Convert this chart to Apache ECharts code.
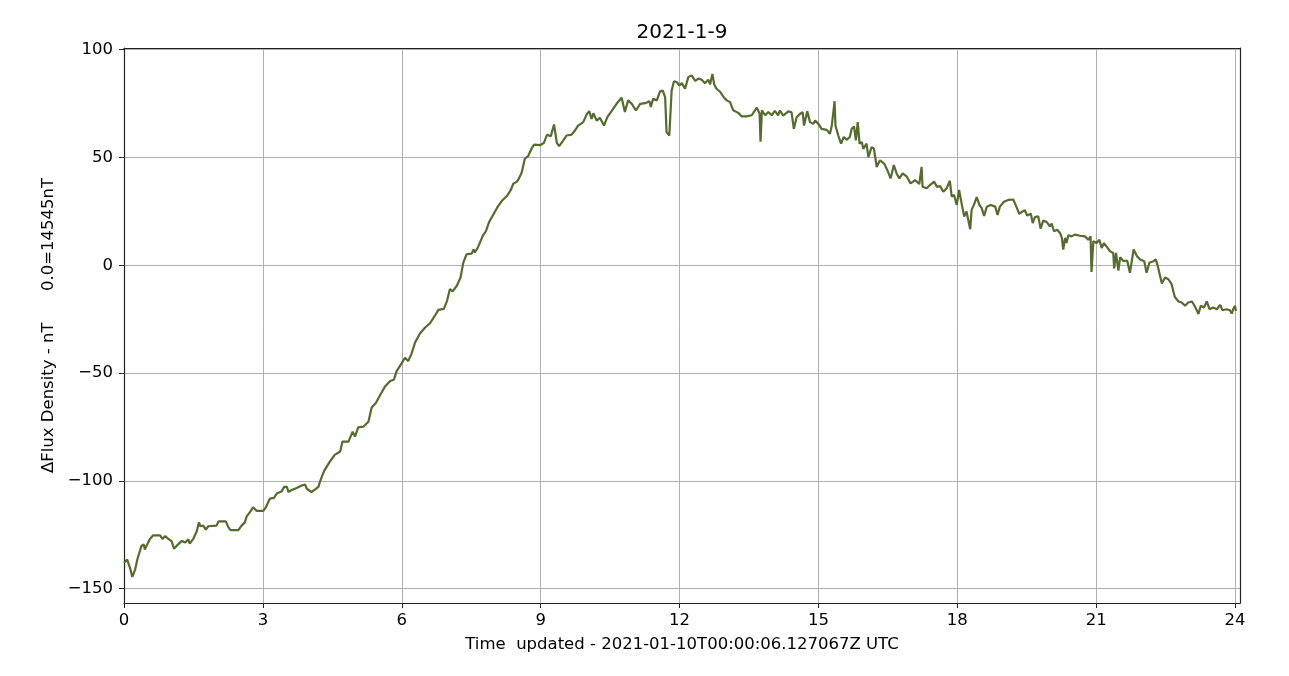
<!DOCTYPE html>
<html>
<head>
<meta charset="utf-8">
<title>2021-1-9</title>
<script src="https://cdn.jsdelivr.net/npm/echarts@6/dist/echarts.min.js"></script>
<style>
  html, body { margin: 0; padding: 0; background: #fff; }
  #chart { width: 1289px; height: 676px; }
</style>
</head>
<body>
<div id="chart"></div>
<script>
// hours since 00:00 UTC
const hours = [
  0.00, 0.07, 0.13, 0.18, 0.24, 0.29, 0.33, 0.38, 0.43, 0.45, 0.50, 0.56, 0.63, 0.78, 0.83, 0.89, 0.96,
  1.03, 1.08, 1.14, 1.25, 1.32, 1.39, 1.42, 1.50, 1.57, 1.62, 1.65, 1.71, 1.77, 1.82, 2.00, 2.04,
  2.20, 2.25, 2.30, 2.47, 2.54, 2.61, 2.65, 2.72, 2.79, 2.87, 3.01, 3.06, 3.15, 3.24, 3.30, 3.41,
  3.46, 3.52, 3.55, 3.62, 3.73, 3.84, 3.91, 3.95, 3.98, 4.05, 4.13, 4.20, 4.23, 4.32, 4.45, 4.55,
  4.67, 4.72, 4.85, 4.94, 4.99, 5.06, 5.17, 5.28, 5.35, 5.44, 5.53, 5.64, 5.75, 5.83, 5.89, 6.00,
  6.07, 6.14, 6.21, 6.29, 6.39, 6.50, 6.61, 6.72, 6.79, 6.91, 6.98, 7.04, 7.10, 7.19, 7.27, 7.33,
  7.40, 7.51, 7.55, 7.58, 7.65, 7.75, 7.82, 7.89, 7.98, 8.06, 8.16, 8.27, 8.35, 8.41, 8.48, 8.52,
  8.59, 8.66, 8.73, 8.81, 8.86, 8.99, 9.07, 9.14, 9.22, 9.29, 9.35, 9.40,
  9.49, 9.56, 9.67, 9.74, 9.81, 9.92, 10.00, 10.05, 10.10, 10.14, 10.21, 10.28, 10.37, 10.44, 10.54,
  10.64, 10.75, 10.82, 10.89, 10.97, 11.06, 11.15, 11.26, 11.35, 11.38, 11.43, 11.51, 11.58, 11.64,
  11.69, 11.72, 11.78, 11.83, 11.88, 11.94, 12.00, 12.05, 12.12, 12.19, 12.26, 12.34, 12.41, 12.48,
  12.55, 12.62, 12.66, 12.71, 12.75, 12.80, 12.88, 12.95, 13.02, 13.09, 13.16, 13.27, 13.34, 13.45,
  13.56, 13.67, 13.73, 13.75, 13.78, 13.85, 13.92, 13.99, 14.06, 14.13,
  14.17, 14.24, 14.35, 14.42, 14.47, 14.53, 14.60, 14.66, 14.69, 14.76, 14.82, 14.89, 14.93, 15.00,
  15.07, 15.18, 15.25, 15.29, 15.32, 15.35, 15.37, 15.43, 15.49, 15.55, 15.61, 15.68, 15.72, 15.77,
  15.81, 15.85, 15.89, 15.94, 15.97, 16.04, 16.08, 16.15, 16.20, 16.26, 16.33, 16.42, 16.49, 16.56,
  16.63, 16.69, 16.75, 16.82, 16.91, 16.99, 17.09, 17.18, 17.23, 17.25, 17.34, 17.41, 17.50, 17.56,
  17.63, 17.70, 17.77, 17.84, 17.88, 17.93, 17.99, 18.04, 18.10, 18.15, 18.20, 18.28, 18.31, 18.36,
  18.42, 18.48, 18.53, 18.58, 18.64, 18.72, 18.82, 18.87,
  18.92, 19.01, 19.10, 19.21, 19.28, 19.34, 19.39, 19.46, 19.51, 19.59, 19.63, 19.68, 19.75, 19.80,
  19.86, 19.93, 20.00, 20.04, 20.09, 20.16, 20.22, 20.26, 20.29, 20.33, 20.36, 20.40, 20.47, 20.54,
  20.65, 20.76, 20.83, 20.88, 20.90, 20.94, 21.01, 21.07, 21.12, 21.17, 21.24, 21.30, 21.37, 21.39,
  21.43, 21.48, 21.52, 21.59, 21.67, 21.73, 21.81, 21.88, 21.95, 22.04, 22.09, 22.15, 22.24, 22.29,
  22.34, 22.42, 22.49, 22.56, 22.63, 22.70, 22.78, 22.85, 22.92, 22.99, 23.07, 23.14, 23.21, 23.26,
  23.33, 23.39, 23.45, 23.53, 23.61, 23.68, 23.73, 23.82, 23.89, 23.93, 23.96, 24.00, 24.02
];

// delta flux density, nT (0.0 = 14545 nT)
const flux = [
  -138.0, -136.6, -140.4, -144.6, -141.2, -136.3, -135.8, -130.1, -129.6, -131.9, -129.6, -127.0, -125.3, -125.3, -127.0, -125.6, -127.0,
  -128.1, -131.5, -130.1, -127.9, -128.6, -127.2, -129.2, -126.8, -123.5, -119.3, -121.1, -120.8, -122.6, -121.1, -120.8, -118.8,
  -118.8, -121.4, -122.9, -122.9, -120.8, -119.3, -116.5, -114.5, -112.3, -114.0, -114.0, -112.5, -108.3, -107.9, -105.9, -104.8,
  -102.8, -102.8, -105.2, -104.3, -103.3, -102.2, -101.7, -103.7, -102.8, -105.2, -104.0, -102.8, -100.6, -95.5, -91.0, -88.0,
  -86.4, -81.8, -81.8, -77.2, -79.5, -75.2, -74.9, -72.6, -66.0, -63.9, -60.3, -56.2, -53.7, -53.1, -49.1, -45.4,
  -42.9, -44.4, -41.1, -35.7, -31.8, -29.0, -26.9, -23.3, -20.7, -20.2, -16.4, -11.0, -12.1, -9.5, -5.7, 1.2,
  5.1, 5.4, 7.3, 5.9, 8.5, 13.6, 15.9, 20.2, 23.6, 26.7, 29.8, 32.1, 34.7, 37.8, 38.7, 39.8,
  42.9, 49.5, 50.6, 54.4, 56.0, 55.7, 56.8, 60.6, 59.9, 65.3, 56.8, 55.3,
  57.9, 60.2, 60.6, 62.5, 64.8, 66.4, 70.2, 71.5, 67.9, 70.5, 67.1, 68.4, 64.8, 68.7, 71.8,
  74.9, 77.7, 71.1, 76.5, 74.9, 71.8, 74.9, 75.2, 76.1, 73.4, 77.2, 76.5, 80.7, 81.0,
  77.9, 61.8, 60.2, 81.0, 85.4, 85.0, 83.4, 84.5, 81.9, 87.3, 88.1, 85.5, 86.6, 86.1,
  84.5, 86.1, 83.9, 88.8, 83.9, 81.9, 80.4, 78.1, 76.5, 75.8, 71.9, 70.7, 69.1, 69.1,
  69.6, 73.1, 70.4, 57.3, 71.9, 69.6, 71.1, 69.6, 71.6, 69.6,
  71.8, 69.4, 71.4, 71.0, 63.3, 68.7, 70.2, 71.0, 64.8, 71.4, 66.4, 65.6, 67.1, 65.6,
  63.3, 62.8, 61.0, 64.8, 65.6, 76.1, 64.8, 60.2, 56.4, 59.5, 58.2, 59.5, 63.3, 64.4,
  57.9, 66.4, 56.4, 57.1, 54.0, 56.4, 50.2, 54.8, 54.1, 45.6, 48.7, 47.2, 44.1, 40.3,
  46.5, 42.6, 40.3, 42.6, 41.1, 38.0, 39.5, 37.7, 45.6, 36.4, 35.7, 37.2, 38.8, 36.4,
  36.7, 34.1, 35.7, 39.2, 31.8, 32.6, 28.0, 34.9, 28.0, 22.6, 24.9, 16.7, 25.7, 28.0,
  31.6, 28.0, 26.4, 22.9, 27.2, 28.0, 27.2, 23.3,
  27.2, 29.5, 30.3, 30.5, 27.0, 23.9, 24.7, 25.5, 23.1, 23.9, 19.6, 22.4, 22.7, 17.0,
  20.8, 20.1, 18.1, 19.3, 15.8, 16.5, 15.0, 12.7, 7.3, 12.7, 10.3, 13.9, 13.4, 14.2,
  13.7, 13.4, 11.8, 13.4, -3.1, 11.1, 10.3, 11.8, 8.0, 10.3, 8.3, 6.5, 5.7, -1.5,
  5.7, -2.5, 3.7, 1.9, 2.2, -3.5, 7.3, 4.3, 2.7, 1.9, -3.5, 1.2, 1.9, 2.7,
  -1.1, -8.5, -5.7, -6.5, -8.8, -14.7, -16.8, -17.3, -18.8, -17.3, -16.8, -19.3, -22.6, -18.8,
  -19.6, -16.8, -20.4, -19.6, -20.4, -18.4, -20.9, -20.4, -20.9, -22.4, -20.4, -18.8, -21.2
];

const titleText = '2021-1-9';
const xName = 'Time  updated - 2021-01-10T00:00:06.127067Z UTC';
const yName = '\u0394Flux Density - nT      0.0=14545nT';

const FONT = '"DejaVu Sans", sans-serif';
const minus = v => String(v).replace('-', '\u2212');
const X_MIN = 0, X_MAX = 24.108;
const Y_MIN = -156.7, Y_MAX = 100.8;

const chart = echarts.init(document.getElementById('chart'), null, { renderer: 'canvas' });

const points = hours.map((h, i) => [h, flux[i]]);

// plain frame line for the top / right sides
const frameSide = (pos) => ({
  type: 'value', position: pos, min: pos === 'top' ? X_MIN : Y_MIN, max: pos === 'top' ? X_MAX : Y_MAX,
  axisLine: { show: true, onZero: false, lineStyle: { color: '#222', width: 1.2 } },
  axisTick: { show: false }, axisLabel: { show: false }, splitLine: { show: false }
});

chart.setOption({
  animation: false,
  backgroundColor: '#fff',
  title: {
    text: titleText,
    left: 677,
    top: 18,
    textAlign: 'center',
    textStyle: { fontFamily: FONT, fontSize: 20, fontWeight: 'normal', color: '#000' }
  },
  grid: { left: 124, right: 49, top: 48, bottom: 73 },
  xAxis: [{
    type: 'value',
    min: X_MIN, max: X_MAX, interval: 3,
    name: xName,
    nameLocation: 'middle',
    nameGap: 33,
    nameTextStyle: { fontFamily: FONT, fontSize: 16.5, color: '#000' },
    axisLine: { show: true, onZero: false, lineStyle: { color: '#222', width: 1.2 } },
    axisTick: { show: true, length: 5, lineStyle: { color: '#222' } },
    axisLabel: { fontFamily: FONT, fontSize: 16.5, color: '#000', margin: 9, showMaxLabel: false },
    splitLine: { show: true, showMinLine: false, showMaxLine: false, lineStyle: { color: '#b0b0b0', width: 1 } }
  }, frameSide('top')],
  yAxis: [{
    type: 'value',
    min: Y_MIN, max: Y_MAX, splitNumber: 5,
    name: yName,
    nameLocation: 'middle',
    nameGap: 63,
    nameTextStyle: { fontFamily: FONT, fontSize: 16.5, color: '#000' },
    axisLine: { show: true, onZero: false, lineStyle: { color: '#222', width: 1.2 } },
    axisTick: { show: true, length: 5, lineStyle: { color: '#222' } },
    axisLabel: {
      fontFamily: FONT, fontSize: 16.5, color: '#000', margin: 11,
      showMinLabel: false, showMaxLabel: false,
      formatter: v => minus(v)
    },
    splitLine: { show: true, showMinLine: false, showMaxLine: false, lineStyle: { color: '#b0b0b0', width: 1 } }
  }, frameSide('right')],
  series: [{
    type: 'line',
    data: points,
    showSymbol: false,
    lineStyle: { color: '#556b2f', width: 2.2 },
    itemStyle: { color: '#556b2f' }
  }]
});
</script>
</body>
</html>
